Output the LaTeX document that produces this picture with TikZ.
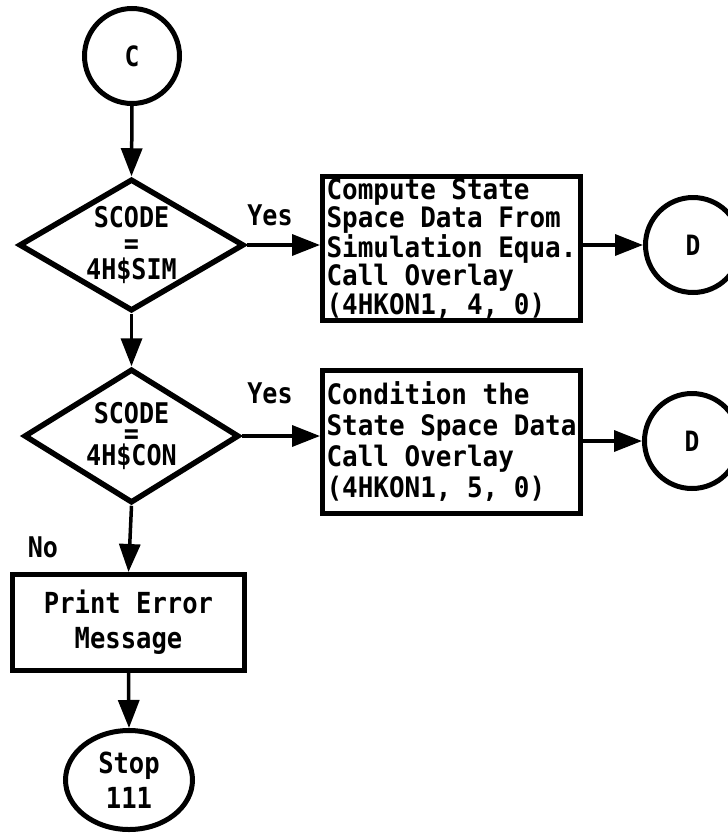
\documentclass[tikz,border=0pt]{standalone}
\usepackage{fontspec}
\newfontfamily\flowfont[FakeStretch=0.88]{DejaVu Sans Mono}
\newfontfamily\boxfont[FakeStretch=0.92]{DejaVu Sans Mono}
\usetikzlibrary{shapes.geometric,arrows.meta}
\begin{document}
\begin{tikzpicture}[x=1pt,y=-1pt,
  outline/.style={draw, line width=5pt, inner sep=0pt},
  connector/.style={circle, outline, minimum size=95pt,
    font=\flowfont\bfseries\fontsize{28}{26}\selectfont},
  decision/.style={diamond, outline, line width=5.5pt, aspect=1.7, align=center,
    font=\flowfont\bfseries\fontsize{28.5}{26}\selectfont},
  process/.style={rectangle, outline, align=left,
    font=\boxfont\bfseries\fontsize{28.2}{25.5}\selectfont},
  flow/.style={line width=3.5pt, -{Triangle[length=28pt,width=21pt]}},
  tag/.style={font=\flowfont\bfseries\fontsize{28.5}{26}\selectfont}]
\clip (0,0) rectangle (728,838);
\useasboundingbox (0,0) rectangle (728,838);

% left column
\node[connector] (c) at (132,56) {C};
\node[decision, minimum width=225pt, minimum height=132pt] (sim) at (131.5,245)
  {SCODE\\=\\4H\$SIM};
\node[decision, minimum width=215pt, minimum height=134pt,
  font=\flowfont\bfseries\fontsize{28.5}{20}\selectfont] (con) at (131.5,436)
  {SCODE\\=\\4H\$CON};
\node[process, minimum width=232pt, minimum height=96pt, align=center,
  font=\flowfont\bfseries\fontsize{29}{35}\selectfont] (err) at (128.5,622.5)
  {Print Error\\Message};
\node[ellipse, outline, minimum width=127pt, minimum height=99pt, align=center,
  font=\flowfont\bfseries\fontsize{29}{35}\selectfont] (stop) at (129,780)
  {Stop\\111};

% right column
\node[process, minimum width=258pt, minimum height=144pt]
  (simbox) at (451.5,248.5)
  {Compute State\\Space Data From\\Simulation Equa.\\Call Overlay\\(4HKON1, 4, 0)};
\node[process, minimum width=258pt, minimum height=143pt,
  font=\boxfont\bfseries\fontsize{28.2}{31}\selectfont]
  (conbox) at (451.5,442)
  {Condition the\\State Space Data\\Call Overlay\\(4HKON1, 5, 0)};
\node[connector] (d1) at (693,245) {D};
\node[connector] (d2) at (692,441) {D};

% branch labels
\node[tag] (yes1) at (270,215) {Yes};
\node[tag] (yes2) at (270,393) {Yes};
\node[tag] (no) at (43,547) {No};

% connectors
\draw[flow] (c.south) -- (sim.north);
\draw[flow] (sim.south) -- (con.north);
\draw[flow] (sim.east) -- (sim.east -| simbox.west);
\draw[flow] (simbox.east |- d1.west) -- (d1.west);
\draw[flow] (con.east) -- (con.east -| conbox.west);
\draw[flow] (conbox.east |- d2.west) -- (d2.west);
\draw[flow] (con.south) -- (err.north);
\draw[flow] (err.south) -- (stop.north);
\end{tikzpicture}
\end{document}
